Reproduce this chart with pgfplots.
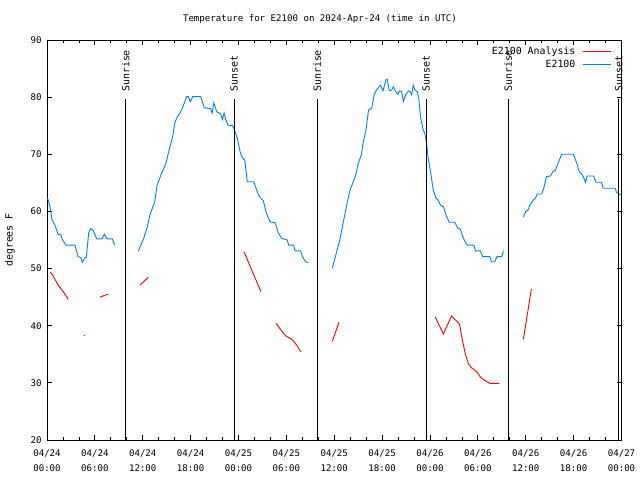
\documentclass[border=0pt]{standalone}
\usepackage{pgfplots}
\pgfplotsset{compat=1.18}
\usepackage{fontspec}
\setmainfont{DejaVu Sans Mono}
\definecolor{obsblue}{RGB}{0,128,255}
\definecolor{anared}{RGB}{255,0,0}
\newcommand{\gf}{\fontsize{9.1bp}{11bp}\selectfont}
\newcommand{\lf}{\fontsize{9.9bp}{12bp}\selectfont}
\begin{document}
\begin{tikzpicture}[x=1bp,y=1bp]
\useasboundingbox (0,0) rectangle (640,480);
\node[font=\gf] at (320,461) {Temperature for E2100 on 2024-Apr-24 (time in UTC)};
\node[font=\lf, rotate=90] at (10,240) {degrees F};
\begin{axis}[
  at={(47bp,40bp)}, anchor=south west, scale only axis,
  width=574.5bp, height=400bp,
  xmin=0, xmax=72, ymin=20, ymax=90,
  clip=false,
  font=\gf,
  /pgf/number format/assume math mode=true,
  xtick={0,6,...,72},
  minor x tick num=2,
  xticklabels={{04/24\\00:00},{04/24\\06:00},{04/24\\12:00},{04/24\\18:00},{04/25\\00:00},{04/25\\06:00},{04/25\\12:00},{04/25\\18:00},{04/26\\00:00},{04/26\\06:00},{04/26\\12:00},{04/26\\18:00},{04/27\\00:00}},
  xticklabel style={align=center, font=\fontsize{9.1bp}{15bp}\selectfont, yshift=-6bp},
  ytick={20,30,...,90},
  yticklabel style={xshift=-2bp},
  major tick length=5bp, minor tick length=3bp,
  tick style={black, line width=0.8bp},
  axis line style={line width=0.9bp},
  unbounded coords=jump,
  legend cell align=right,
  legend plot pos=right,
  legend style={draw=none, fill=none, at={(1,1)}, anchor=north east, xshift=-10bp, yshift=-4.5bp, inner sep=0pt, row sep=0bp, column sep=5bp, font=\lf},
  legend image code/.code={\draw[#1] (0bp,0bp) -- (28bp,0bp);},
]
\addplot[anared, line width=0.9bp] coordinates {
(0.4,49.3) (0.63,49.05) (1.4,47.1) (2.04,45.95) (2.67,44.6) (3.0,nan)
(4.62,38.35) (4.74,38.25) (5.0,nan)
(6.64,45.0) (7.2,45.3) (7.7,45.55) (8.0,nan)
(11.66,47.1) (12.7,48.5) (13.0,nan)
(24.7,52.95) (25.65,49.75) (26.8,46.0) (27.0,nan)
(28.7,40.4) (29.4,39.1) (29.95,38.2) (30.7,37.6) (31.3,36.6) (31.8,35.45) (32.0,nan)
(35.76,37.3) (36.6,40.6) (37.0,nan)
(48.67,41.5) (49.67,38.55) (50.7,41.7) (51.7,40.3) (51.97,38.1) (52.4,35.2) (52.8,33.4) (53.2,32.65) (53.85,31.95) (54.35,30.95) (54.9,30.4) (55.5,29.9) (56.7,29.9) (57.0,nan)
(59.7,37.6) (60.7,46.4)
};
\addlegendentry{E2100 Analysis}
\addplot[obsblue, line width=0.9bp] coordinates {
(0,62.3) (0.13,62.1) (0.38,60.8) (0.63,58.5) (1.0,57.6) (1.38,56.0) (1.75,55.9) (1.88,55.2) (2.38,54.1) (3.5,54.1) (3.9,52.1) (4.26,51.9) (4.42,51.1) (4.76,51.9) (4.93,51.9) (5.22,56.2) (5.47,57.0) (5.8,56.6) (6.23,55.2) (6.9,55.2) (7.18,56.0) (7.52,55.2) (8.18,55.2) (8.48,54.1) (9.0,nan)
(11.45,53.1) (12.07,55.1) (12.57,57.3) (12.9,59.4) (13.5,61.7) (13.8,64.6) (14.37,66.7) (14.9,68.4) (15.3,70.75) (15.75,73.1) (16.0,75.4) (16.3,76.5) (16.7,77.3) (17.0,78.2) (17.5,80.1) (17.7,80.1) (17.96,79.2) (18.26,80.1) (19.26,80.1) (19.7,78.15) (20.5,78.0) (20.7,77.2) (20.9,79.0) (21.27,77.45) (21.77,77.05) (21.97,76.1) (22.2,77.2) (22.4,76.1) (22.7,75.1) (23.27,75.0) (23.56,73.95) (23.85,72.8) (24.2,70.45) (24.4,69.6) (24.8,68.9) (25.1,65.2) (25.9,65.2) (26.5,62.9) (26.8,62.3) (27.1,61.9) (27.5,59.7) (27.95,58.2) (28.6,58.0) (29.0,56.2) (29.4,55.3) (30.1,55.0) (30.3,54.1) (30.9,54.1) (31.1,53.1) (31.8,53.1) (32.0,52.1) (32.46,51.1) (32.8,51.1) (33.0,nan)
(35.76,50.05) (36.2,52.4) (36.7,55.0) (37.1,57.9) (37.6,61.4) (37.97,63.75) (38.3,64.9) (38.7,66.4) (39.0,68.4) (39.4,69.9) (39.6,71.9) (39.98,74.25) (40.3,77.75) (40.7,78.05) (41.0,80.4) (41.3,81.25) (41.6,81.8) (41.8,82.1) (42.1,81.1) (42.3,82.1) (42.5,83.1) (42.65,83.1) (42.9,81.1) (43.2,81.25) (43.4,81.8) (43.7,81.0) (43.95,80.5) (44.2,81.1) (44.45,81.0) (44.66,79.2) (44.95,80.4) (45.3,81.1) (45.5,81.0) (45.7,80.4) (45.9,82.1) (46.1,81.25) (46.4,81.0) (46.6,79.8) (46.8,76.6) (47.1,74.5) (47.4,73.4) (47.6,71.6) (47.8,69.0) (48.1,66.7) (48.4,63.75) (48.75,62.3) (49.0,62.0) (49.3,61.1) (49.7,60.8) (50.0,59.4) (50.4,58.1) (51.1,58.1) (51.5,57.05) (51.8,56.9) (52.1,55.6) (52.5,54.4) (52.7,54.1) (53.5,54.1) (53.7,53.1) (54.3,53.1) (54.6,52.1) (55.5,52.1) (55.7,51.2) (56.1,51.2) (56.4,52.1) (57.0,52.1) (57.2,53.1) (58.0,nan)
(59.7,59.0) (60.0,60.0) (60.3,60.25) (60.5,61.1) (60.95,62.0) (61.2,62.3) (61.45,63.05) (62.0,63.05) (62.3,64.3) (62.6,66.1) (63.1,66.2) (63.45,67.1) (63.7,67.1) (63.95,68.1) (64.3,69.3) (64.5,70.0) (65.96,70.0) (66.4,68.4) (66.7,66.95) (67.0,66.55) (67.2,66.1) (67.5,65.1) (67.7,66.2) (68.5,66.2) (68.8,65.1) (69.5,65.1) (69.7,64.05) (71.2,64.05) (71.4,63.3) (71.7,63.0) (72,62.9)
};
\addlegendentry{E2100}
% sunrise / sunset markers
\addplot[black, line width=1bp, forget plot] coordinates {(9.86,20) (9.86,79.6)};
\addplot[black, line width=1bp, forget plot] coordinates {(23.44,20) (23.44,79.6)};
\addplot[black, line width=1bp, forget plot] coordinates {(33.87,20) (33.87,79.6)};
\addplot[black, line width=1bp, forget plot] coordinates {(47.5,20) (47.5,79.6)};
\addplot[black, line width=1bp, forget plot] coordinates {(57.8,20) (57.8,79.6)};
\addplot[black, line width=1bp, forget plot] coordinates {(71.65,20) (71.65,79.6)};
\node[rotate=90, anchor=west, inner sep=0pt, font=\lf] at (axis cs:9.86,80.9) {Sunrise};
\node[rotate=90, anchor=west, inner sep=0pt, font=\lf] at (axis cs:23.44,80.9) {Sunset};
\node[rotate=90, anchor=west, inner sep=0pt, font=\lf] at (axis cs:33.87,80.9) {Sunrise};
\node[rotate=90, anchor=west, inner sep=0pt, font=\lf] at (axis cs:47.5,80.9) {Sunset};
\node[rotate=90, anchor=west, inner sep=0pt, font=\lf] at (axis cs:57.8,80.9) {Sunrise};
\node[rotate=90, anchor=west, inner sep=0pt, font=\lf] at (axis cs:71.65,80.9) {Sunset};
\end{axis}
\end{tikzpicture}
\end{document}
